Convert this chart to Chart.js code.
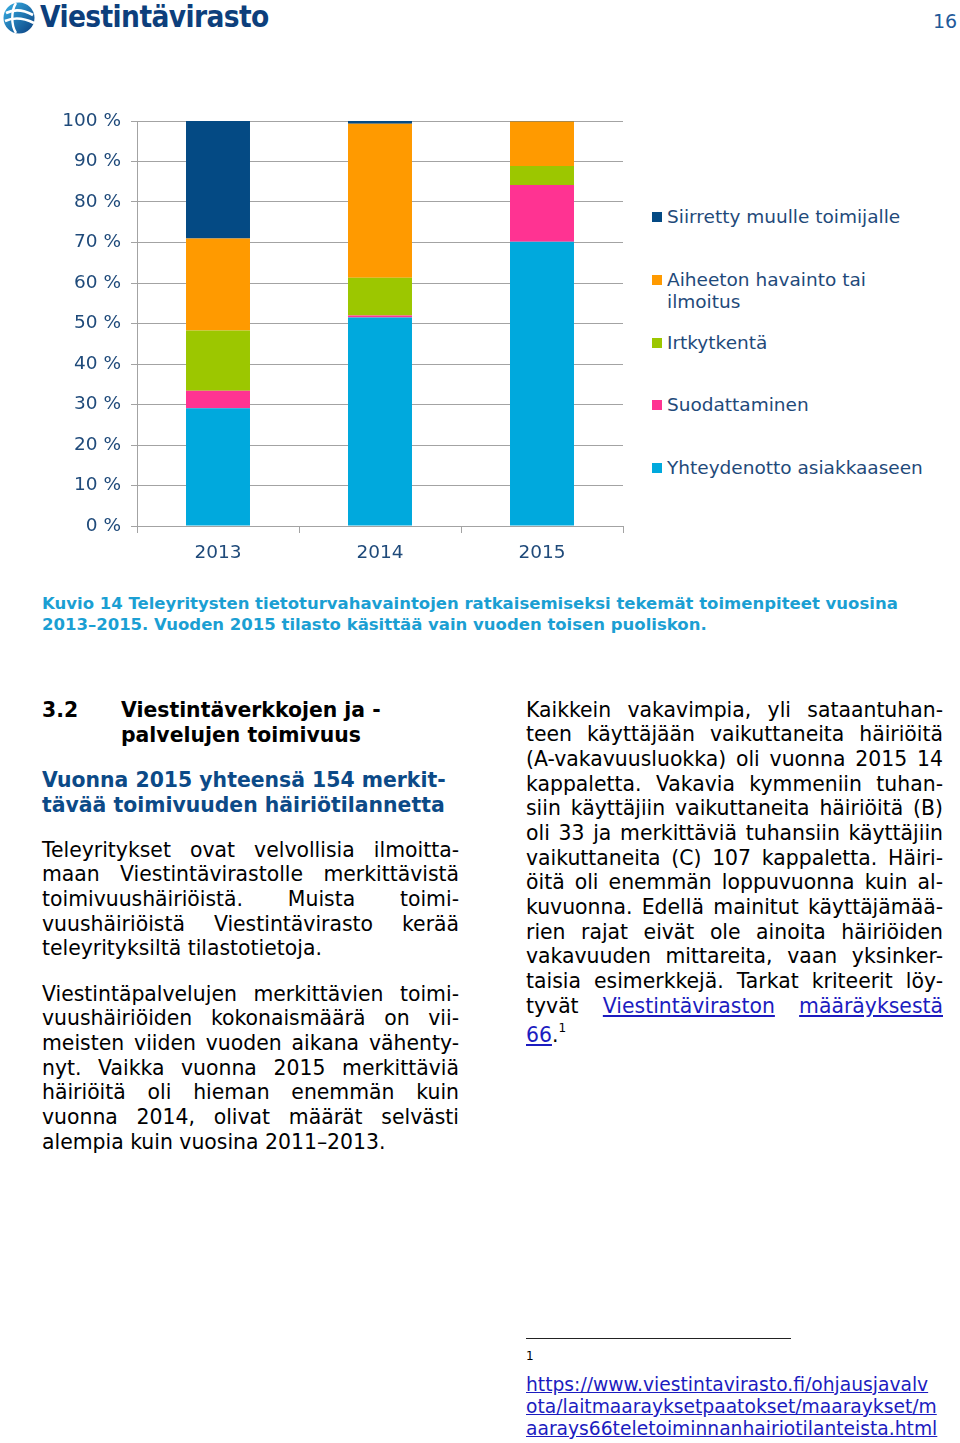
<!DOCTYPE html>
<html lang="fi">
<head>
<meta charset="utf-8">
<script src="https://cdn.jsdelivr.net/npm/chart.js@4/dist/chart.umd.min.js"></script>
<style>
  html, body { margin:0; padding:0; background:#fff; }
  body { width:960px; height:1443px; position:relative; overflow:hidden; font-family:"DejaVu Sans", Verdana, sans-serif; color:#000; }
  .abs { position:absolute; }
  #chartBox { position:absolute; left:0; top:90px; width:640px; height:490px; }
  .legend-item { position:absolute; left:652px; font-size:18.5px; line-height:22px; color:#1f4a7a; white-space:nowrap; }
  .legend-item .sw { position:absolute; left:0; top:6px; width:10px; height:10px; }
  .legend-item .tx { position:absolute; left:15px; top:0; }
  .body { position:absolute; width:417px; font-size:20.4px; line-height:24.65px; }
  .body div { white-space:nowrap; }
  .body div.j { text-align:justify; text-align-last:justify; white-space:normal; }
  a { color:#1c1cc0; text-decoration:underline; }
  .h { position:absolute; font-weight:bold; font-size:20.4px; line-height:25px; white-space:nowrap; }
  .cap { position:absolute; left:42px; top:593px; font-weight:bold; font-size:16.5px; line-height:21px; color:#1b9fd3; white-space:nowrap; }
</style>
</head>
<body>
<!-- header -->
<svg class="abs" style="left:2px;top:1px" width="34" height="34" viewBox="0 0 34 34">
  <defs>
    <linearGradient id="g" x1="0" y1="0" x2="1" y2="1">
      <stop offset="0" stop-color="#39b3e8"/>
      <stop offset="1" stop-color="#0b3f7f"/>
    </linearGradient>
  </defs>
  <circle cx="17" cy="17" r="15.5" fill="url(#g)"/>
  <path d="M4 12 C12 8 22 9 31 14" stroke="#fff" stroke-width="2.6" fill="none"/>
  <path d="M3 20 C12 16 22 17 32 22" stroke="#fff" stroke-width="2.6" fill="none"/>
  <path d="M14 2 C9 10 9 24 14 32" stroke="#fff" stroke-width="2.4" fill="none"/>
</svg>
<div class="abs" style="left:40px;top:0px;font-size:29.5px;font-weight:bold;color:#0d3f7c;letter-spacing:-0.6px;font-family:'DejaVu Sans Condensed','DejaVu Sans',sans-serif;white-space:nowrap;">Viestintävirasto</div>
<div class="abs" style="left:933px;top:10px;font-size:19px;color:#1f5a9a;">16</div>

<div id="chartBox"><canvas id="c" width="640" height="490"></canvas></div>
<div id="legend"></div>

<div class="cap">Kuvio 14 Teleyritysten tietoturvahavaintojen ratkaisemiseksi tekemät toimenpiteet vuosina<br>2013–2015. Vuoden 2015 tilasto käsittää vain vuoden toisen puoliskon.</div>

<div class="h" style="left:42px;top:697.5px;">3.2</div>
<div class="h" style="left:121px;top:697.5px;">Viestintäverkkojen ja -<br>palvelujen toimivuus</div>
<div class="h" style="left:42px;top:767.5px;color:#0c4a87;">Vuonna 2015 yhteensä 154 merkit-<br>tävää toimivuuden häiriötilannetta</div>

<div class="body" style="left:42px;top:837.7px;">
  <div class="j">Teleyritykset ovat velvollisia ilmoitta-</div>
  <div class="j">maan Viestintävirastolle merkittävistä</div>
  <div class="j">toimivuushäiriöistä. Muista toimi-</div>
  <div class="j">vuushäiriöistä Viestintävirasto kerää</div>
  <div>teleyrityksiltä tilastotietoja.</div>
</div>
<div class="body" style="left:42px;top:981.7px;">
  <div class="j">Viestintäpalvelujen merkittävien toimi-</div>
  <div class="j">vuushäiriöiden kokonaismäärä on vii-</div>
  <div class="j">meisten viiden vuoden aikana vähenty-</div>
  <div class="j">nyt. Vaikka vuonna 2015 merkittäviä</div>
  <div class="j">häiriöitä oli hieman enemmän kuin</div>
  <div class="j">vuonna 2014, olivat määrät selvästi</div>
  <div>alempia kuin vuosina 2011–2013.</div>
</div>
<div class="body" style="left:526px;top:697.7px;">
  <div class="j">Kaikkein vakavimpia, yli sataantuhan-</div>
  <div class="j">teen käyttäjään vaikuttaneita häiriöitä</div>
  <div class="j">(A-vakavuusluokka) oli vuonna 2015 14</div>
  <div class="j">kappaletta. Vakavia kymmeniin tuhan-</div>
  <div class="j">siin käyttäjiin vaikuttaneita häiriöitä (B)</div>
  <div class="j">oli 33 ja merkittäviä tuhansiin käyttäjiin</div>
  <div class="j">vaikuttaneita (C) 107 kappaletta. Häiri-</div>
  <div class="j">öitä oli enemmän loppuvuonna kuin al-</div>
  <div class="j">kuvuonna. Edellä mainitut käyttäjämää-</div>
  <div class="j">rien rajat eivät ole ainoita häiriöiden</div>
  <div class="j">vakavuuden mittareita, vaan yksinker-</div>
  <div class="j">taisia esimerkkejä. Tarkat kriteerit löy-</div>
  <div class="j">tyvät <a>Viestintäviraston</a> <a>määräyksestä</a></div>
  <div><a>66</a>.<sup style="font-size:12px;position:relative;top:-2px;">1</sup></div>
</div>

<div class="abs" style="left:526px;top:1338px;width:265px;height:1px;background:#222;"></div>
<div class="abs" style="left:526px;top:1349px;font-size:12px;">1</div>
<div class="abs" style="left:526px;top:1374px;font-size:18.7px;line-height:22px;white-space:nowrap;">
  <a>https://www.viestintavirasto.fi/ohjausjavalv</a><br><a>ota/laitmaarayksetpaatokset/maaraykset/m</a><br><a>aarays66teletoiminnanhairiotilanteista.html</a>
</div>

<script>
// ---- data ----
const categories = ['2013', '2014', '2015'];
const seriesNames = ['Yhteydenotto asiakkaaseen', 'Suodattaminen', 'Irtkytkentä', 'Aiheeton havainto tai ilmoitus', 'Siirretty muulle toimijalle'];
const yhteydenotto = [29.1, 51.5, 70.2];
const suodattaminen = [4.3, 0.5, 14.0];
const irtkytkenta = [14.9, 9.3, 4.7];
const aiheeton = [22.7, 38.0, 11.0];
const siirretty = [29.0, 0.7, 0.1];
const seriesColors = ['#00a9dd', '#ff3392', '#9cc700', '#ff9a00', '#044a84'];
const legendLabels = ['Siirretty muulle toimijalle', 'Aiheeton havainto tai\nilmoitus', 'Irtkytkentä', 'Suodattaminen', 'Yhteydenotto asiakkaaseen'];

const seriesValues = [yhteydenotto, suodattaminen, irtkytkenta, aiheeton, siirretty];
const axisText = '#1f4a7a';
const gridColor = '#a3a3a3';

const datasets = seriesNames.map((n, i) => ({
  label: n,
  data: seriesValues[i],
  backgroundColor: seriesColors[i],
  borderWidth: 0,
  categoryPercentage: 1,
  barPercentage: 0.395
}));

new Chart(document.getElementById('c'), {
  type: 'bar',
  data: { labels: categories, datasets },
  options: {
    responsive: false,
    animation: false,
    layout: { padding: { left: 0, right: 17, top: 31, bottom: 0 } },
    plugins: { legend: { display: false }, tooltip: { enabled: false } },
    scales: {
      x: {
        stacked: true,
        grid: { display: true, drawOnChartArea: false, drawTicks: true, tickLength: 7, color: gridColor, offset: true },
        border: { display: true, color: gridColor },
        ticks: { color: axisText, font: { family: 'DejaVu Sans', size: 18.5 }, padding: 9 },
        afterFit: s => { s.height = 54; }
      },
      y: {
        stacked: true,
        min: 0, max: 100,
        grid: { color: gridColor, tickLength: 6, drawTicks: true },
        border: { display: true, color: gridColor },
        ticks: { stepSize: 10, color: axisText, font: { family: 'DejaVu Sans', size: 18.5 }, padding: 10,
                 callback: v => v + ' %' },
        afterFit: s => { s.width = 137; }
      }
    }
  }
});

// legend built from the series arrays (top to bottom)
const legendTops = [206, 269, 332, 394, 457];
const lg = document.getElementById('legend');
legendLabels.forEach((t, k) => {
  const idx = seriesNames.length - 1 - k;
  const d = document.createElement('div');
  d.className = 'legend-item';
  d.style.top = legendTops[k] + 'px';
  d.innerHTML = '<span class="sw" style="background:' + seriesColors[idx] + '"></span><span class="tx">' + t.replace('\n', '<br>') + '</span>';
  lg.appendChild(d);
});
</script>
</body>
</html>
